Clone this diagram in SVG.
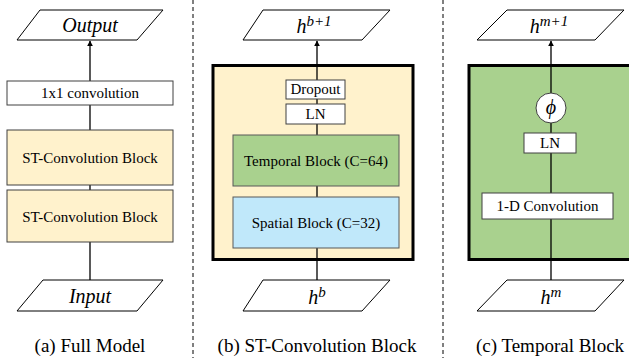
<svg xmlns="http://www.w3.org/2000/svg" width="629" height="358" viewBox="0 0 629 358" font-family="Liberation Serif, Times New Roman, DejaVu Serif, serif">
<defs>
<style>
.io{fill:#fff;stroke:#000;stroke-width:1}
.box{fill:#fff;stroke:#404040;stroke-width:1}
.st{fill:#FFF2CC;stroke:#404040;stroke-width:1}
.tb{fill:#A9D18E;stroke:#595959;stroke-width:1}
.sb{fill:#C0E8FA;stroke:#595959;stroke-width:1}
.big{stroke:#000;stroke-width:3}
.t{font-size:15px;fill:#000;text-anchor:middle}
.m{font-style:italic;font-size:20px;fill:#000;text-anchor:middle}
.cap{font-size:19px;fill:#000;text-anchor:middle}
.ln{stroke:#000;stroke-width:1.3;fill:none}
.dash{stroke:#000;stroke-width:1;stroke-dasharray:4,3;fill:none}
</style>
<marker id="arr" viewBox="0 0 10 10" refX="9" refY="5" markerWidth="6" markerHeight="6" orient="auto-start-reverse" markerUnits="userSpaceOnUse">
<path d="M0,0 L10,5 L0,10 z" fill="#000"/>
</marker>
</defs>
<rect width="629" height="358" fill="#fff"/>
<g id="separators">
<line class="dash" x1="193" y1="0" x2="193" y2="358"/>
<line class="dash" x1="443" y1="0" x2="443" y2="358"/>
</g>
<g id="containers">
<rect id="st-block-container" class="big" x="213" y="65.5" width="200" height="194" fill="#FFF2CC"/>
<rect id="temporal-container" class="big" x="469" y="65.5" width="170" height="194" fill="#A9D18E"/>
</g>
<g id="connectors">
<line class="ln" x1="90" y1="81" x2="90" y2="41" marker-end="url(#arr)"/>
<line class="ln" x1="90" y1="105" x2="90" y2="130"/>
<line class="ln" x1="90" y1="185" x2="90" y2="190"/>
<line class="ln" x1="90" y1="242" x2="90" y2="280"/>
<line class="ln" x1="317" y1="80" x2="317" y2="41" marker-end="url(#arr)"/>
<line class="ln" x1="317" y1="99" x2="317" y2="104"/>
<line class="ln" x1="317" y1="124" x2="317" y2="135"/>
<line class="ln" x1="317" y1="186" x2="317" y2="197"/>
<line class="ln" x1="317" y1="248" x2="317" y2="280"/>
<line class="ln" x1="551" y1="93" x2="551" y2="41" marker-end="url(#arr)"/>
<line class="ln" x1="551" y1="123" x2="551" y2="133"/>
<line class="ln" x1="551" y1="153" x2="551" y2="193"/>
<line class="ln" x1="551" y1="219" x2="551" y2="280"/>
</g>
<g id="a-output">
<polygon class="io" points="40,10 163,10 137,40 17,40"/>
<text class="m" x="90" y="32">Output</text>
</g>
<g id="a-conv1x1">
<rect class="box" x="7" y="81" width="166" height="24"/>
<text class="t" x="90" y="98">1x1 convolution</text>
</g>
<g id="a-st1">
<rect class="st" x="7" y="130" width="166" height="55"/>
<text class="t" x="90" y="162.5">ST-Convolution Block</text>
</g>
<g id="a-st2">
<rect class="st" x="7" y="190" width="166" height="52"/>
<text class="t" x="90" y="221.5">ST-Convolution Block</text>
</g>
<g id="a-input">
<polygon class="io" points="43,280 163,280 137,311 17,311"/>
<text class="m" x="90" y="303">Input</text>
</g>
<text class="cap" x="90" y="352">(a) Full Model</text>
<g id="b-out">
<polygon class="io" points="263,10 390,10 362,40 243,40"/>
<text class="m" x="314" y="33">h<tspan font-size="15" dy="-7">b+1</tspan></text>
</g>
<g id="b-dropout">
<rect class="box" x="286" y="80" width="59" height="19"/>
<text class="t" x="315.5" y="94" font-size="12">Dropout</text>
</g>
<g id="b-ln">
<rect class="box" x="286" y="104" width="59" height="20"/>
<text class="t" x="315.5" y="118.5" font-size="12.5">LN</text>
</g>
<g id="b-temporal">
<rect class="tb" x="233" y="135" width="166" height="51"/>
<text class="t" x="316" y="166">Temporal Block (C=64)</text>
</g>
<g id="b-spatial">
<rect class="sb" x="233" y="197" width="166" height="51"/>
<text class="t" x="316" y="227.5">Spatial Block (C=32)</text>
</g>
<g id="b-in">
<polygon class="io" points="263,280 390,280 362,311 243,311"/>
<text class="m" x="317" y="304">h<tspan font-size="15" dy="-7">b</tspan></text>
</g>
<text class="cap" x="317" y="352">(b) ST-Convolution Block</text>
<g id="c-out">
<polygon class="io" points="507,10 624,10 595,40 477,40"/>
<text class="m" x="549" y="33">h<tspan font-size="15" dy="-7">m+1</tspan></text>
</g>
<g id="c-phi">
<circle cx="551" cy="108" r="15" fill="#fff" stroke="#404040" stroke-width="1"/>
<text class="m" x="551" y="114" font-size="17">ϕ</text>
</g>
<g id="c-ln">
<rect class="box" x="524" y="133" width="52" height="20"/>
<text class="t" x="550" y="147.5" font-size="12.5">LN</text>
</g>
<g id="c-conv">
<rect class="box" x="482" y="193" width="131" height="26"/>
<text class="t" x="547.5" y="211">1-D Convolution</text>
</g>
<g id="c-in">
<polygon class="io" points="507,280 624,280 595,311 477,311"/>
<text class="m" x="551" y="304">h<tspan font-size="15" dy="-7">m</tspan></text>
</g>
<text class="cap" x="550" y="352">(c) Temporal Block</text>
</svg>
